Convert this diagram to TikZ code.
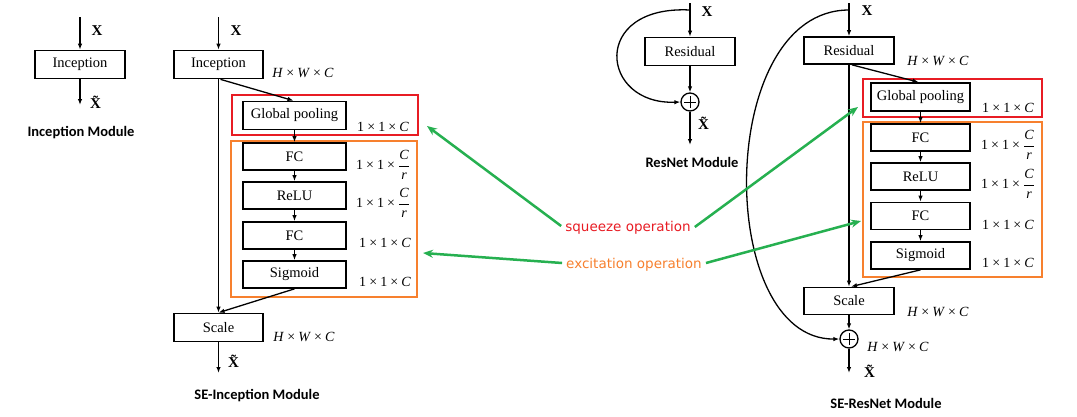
\documentclass[tikz,border=0pt]{standalone}
\usepackage{amsmath}
\usepackage{fontspec}
\setmainfont{Liberation Serif}
\newfontfamily\capfont{Carlito}
\newfontfamily\opfont{DejaVu Sans}
\usetikzlibrary{arrows.meta}
\definecolor{sqred}{RGB}{232,28,36}
\definecolor{exor}{RGB}{247,128,46}
\definecolor{opgreen}{RGB}{38,176,80}
\newcommand\tm{\hspace{0.22em}×\hspace{0.22em}}
\newcommand\dimC{1\tm1\tm\textit{C}}
\newcommand\dimCr{1\tm1\tm$\dfrac{\textit{C}}{\textit{r}}$}
\newcommand\dimHWC{\textit{H}\tm\textit{W}\tm\textit{C}}
\newcommand\Xb{\textbf{X}}
\newcommand\Xt{\textbf{X^^^^0303}}
\begin{document}
\begin{tikzpicture}[x=1pt,y=-1pt,
  blk/.style={draw,line width=1.7pt,inner sep=0pt,minimum height=27pt,font=\fontsize{14.5}{16}\selectfont},
  arr/.style={line width=1.3pt,-{Latex[length=6pt,width=4.5pt]}},
  lab/.style={inner sep=0pt,font=\fontsize{14}{16}\selectfont},
  xlab/.style={inner sep=0pt,font=\fontsize{15}{17}\selectfont},
  modcap/.style={inner sep=0pt,font=\capfont\bfseries\fontsize{14.5}{17}\selectfont},
  oplab/.style={inner sep=0pt,font=\opfont\fontsize{13.5}{16}\selectfont},
  garr/.style={opgreen,line width=2.5pt,-{Stealth[length=10pt,width=8pt]}},
  sqframe/.style={draw=sqred,line width=2pt},
  exframe/.style={draw=exor,line width=2pt},
  plusc/.style={circle,draw,line width=1.3pt,minimum size=18pt,inner sep=0pt,
    path picture={\draw[line width=1pt] ([xshift=-6pt]path picture bounding box.center) -- ([xshift=6pt]path picture bounding box.center);
                  \draw[line width=1pt] ([yshift=-6pt]path picture bounding box.center) -- ([yshift=6pt]path picture bounding box.center);}}
]
\useasboundingbox[fill=white] (0,0) rectangle (1077,416);

% ---------- Inception Module ----------
\coordinate (a0) at (80,17);
\coordinate (a1) at (80,105);
\node[blk,minimum width=90pt,minimum height=28pt] (inc1) at (80,64.5) {Inception};
\draw[arr] (a0) -- (inc1.north);
\draw[arr] (inc1.south) -- (a1);
\node[xlab] (x1) at (97,31) {\Xb};
\node[xlab] (xt1) at (98,102) {\Xt};
\node[modcap] (c1) at (81,133) {Inception Module};

% ---------- SE-Inception Module ----------
\draw[sqframe] (232,95) rectangle (418,135);
\draw[exframe] (231,141) rectangle (417,297);
\coordinate (b0) at (218.5,17);
\coordinate (b1) at (218.5,373);
\node[blk,minimum width=89pt,minimum height=28pt] (inc2) at (218.5,64.5) {Inception};
\node[blk,minimum width=103pt,minimum height=28pt] (gp1) at (294.5,115.5) {Global pooling};
\node[blk,minimum width=103pt] (fc1) at (294.5,156.5) {FC};
\node[blk,minimum width=103pt] (re1) at (294.5,195.5) {ReLU};
\node[blk,minimum width=103pt] (fd1) at (294.5,235.5) {FC};
\node[blk,minimum width=103pt] (sg1) at (294.5,274.5) {Sigmoid};
\node[blk,minimum width=89pt,minimum height=28pt] (sc1) at (218.5,327.5) {Scale};
\draw[arr] (b0) -- (inc2.north);
\draw[arr] (inc2.south) -- (sc1.north);
\draw[arr] ([xshift=2pt]inc2.south) -- ([xshift=-1pt]gp1.north);
\draw[arr] (gp1.south) -- (fc1.north);
\draw[arr] (fc1.south) -- (re1.north);
\draw[arr] (re1.south) -- (fd1.north);
\draw[arr] (fd1.south) -- (sg1.north);
\draw[arr] (sg1.south) -- (sc1.north);
\draw[arr] (sc1.south) -- (b1);
\node[xlab] (x2) at (236,31) {\Xb};
\node[lab] (d1) at (303,73) {\dimHWC};
\node[lab] (d2) at (383,127) {\dimC};
\node[lab] (d3) at (383,165) {\dimCr};
\node[lab] (d4) at (383,203) {\dimCr};
\node[lab] (d5) at (385,243) {\dimC};
\node[lab] (d6) at (385,282) {\dimC};
\node[lab] (d7) at (304,337) {\dimHWC};
\node[xlab] (xt2) at (236,361) {\Xt};
\node[modcap] (c2) at (257,396) {SE-Inception Module};

% ---------- ResNet Module ----------
\coordinate (r0) at (690,3);
\coordinate (rs) at (690,10);
\coordinate (r1) at (690,145);
\node[blk,minimum width=90pt,minimum height=28pt] (res1) at (690,51.5) {Residual};
\node[plusc] (p1) at (690,102) {};
\draw[arr] (r0) -- (res1.north);
\draw[arr] (res1.south) -- (p1.north);
\draw[arr] (rs) .. controls (590,5) and (600,105) .. (p1.west);
\draw[arr] (p1.south) -- (r1);
\node[xlab] (x3) at (707,12) {\Xb};
\node[xlab] (xt3) at (706,123) {\Xt};
\node[modcap] (c3) at (692,162) {ResNet Module};

% ---------- SE-ResNet Module ----------
\draw[sqframe] (863,79) rectangle (1042,117);
\draw[exframe] (863,122) rectangle (1042,277);
\coordinate (s0) at (849,3);
\coordinate (ss) at (849,10);
\coordinate (s1) at (849,373);
\node[blk,minimum width=90pt] (res2) at (849,50.5) {Residual};
\node[blk,minimum width=99pt,minimum height=28pt] (gp2) at (920.5,97) {Global pooling};
\node[blk,minimum width=99pt] (fc2) at (920.5,137.5) {FC};
\node[blk,minimum width=99pt] (re2) at (920.5,176.5) {ReLU};
\node[blk,minimum width=99pt] (fd2) at (920.5,216) {FC};
\node[blk,minimum width=99pt] (sg2) at (920.5,255.5) {Sigmoid};
\node[blk,minimum width=90pt] (sc2) at (849,301) {Scale};
\node[plusc] (p2) at (849,339) {};
\draw[arr] (s0) -- (res2.north);
\draw[arr] (res2.south) -- (sc2.north);
\draw[arr] ([xshift=3pt]res2.south) -- ([xshift=-2pt]gp2.north);
\draw[arr] (gp2.south) -- (fc2.north);
\draw[arr] (fc2.south) -- (re2.north);
\draw[arr] (re2.south) -- (fd2.north);
\draw[arr] (fd2.south) -- (sg2.north);
\draw[arr] (sg2.south) -- ([xshift=2pt]sc2.north);
\draw[arr] (sc2.south) -- (p2.north);
\draw[arr] (ss) .. controls (715,10) and (715,340) .. (p2.west);
\draw[arr] (p2.south) -- (s1);
\node[xlab] (x4) at (867,11) {\Xb};
\node[lab] (e1) at (938,61) {\dimHWC};
\node[lab] (e2) at (1008,108) {\dimC};
\node[lab] (e3) at (1008,145) {\dimCr};
\node[lab] (e4) at (1008,184) {\dimCr};
\node[lab] (e5) at (1008,225) {\dimC};
\node[lab] (e6) at (1008,263) {\dimC};
\node[lab] (e7) at (938,312) {\dimHWC};
\node[lab] (e8) at (898,347) {\dimHWC};
\node[xlab] (xt4) at (872,371) {\Xt};
\node[modcap] (c4) at (886,403) {SE-ResNet Module};

% ---------- operation labels ----------
\node[oplab,text=sqred] (sq) at (628,228) {squeeze operation};
\node[oplab,text=exor] (ex) at (634,265) {excitation operation};
\coordinate (t1) at (427,126);
\coordinate (t2) at (423,253);
\coordinate (t3) at (858,107);
\coordinate (t4) at (861,221);
\draw[garr] ([xshift=-4pt,yshift=2pt]sq.west) -- (t1);
\draw[garr] ([xshift=-4pt,yshift=2pt]ex.west) -- (t2);
\draw[garr] ([xshift=4pt,yshift=1pt]sq.east) -- (t3);
\draw[garr] ([xshift=4pt,yshift=2pt]ex.east) -- (t4);
\end{tikzpicture}
\end{document}
